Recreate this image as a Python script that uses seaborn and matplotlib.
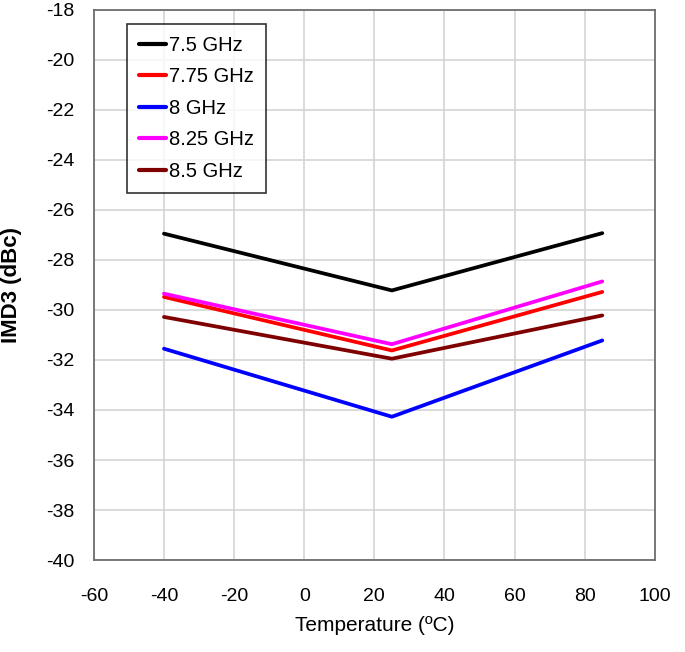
import matplotlib
matplotlib.use("Agg")
import matplotlib.pyplot as plt
import seaborn as sns
import pandas as pd

# temperature points and IMD3 per frequency
temps = [-40, 25, 85]
freqs = ['7.5 GHz', '7.75 GHz', '8 GHz', '8.25 GHz', '8.5 GHz']
imd_75 = [-26.95, -29.22, -26.93]
imd_775 = [-29.48, -31.62, -29.28]
imd_8 = [-31.55, -34.27, -31.22]
imd_825 = [-29.35, -31.37, -28.86]
imd_85 = [-30.28, -31.95, -30.22]
colors = ['#000000', '#ff0000', '#0000ff', '#ff00ff', '#7f0000']

rows = []
for f, vals in zip(freqs, [imd_75, imd_775, imd_8, imd_825, imd_85]):
    for t, v in zip(temps, vals):
        rows.append({'Temperature': t, 'IMD3': v, 'Freq': f})
df = pd.DataFrame(rows)

sns.set_style("white")
plt.rcParams['font.family'] = ['Liberation Sans', 'DejaVu Sans']
plt.rcParams['axes.unicode_minus'] = False
plt.rcParams['text.color'] = 'black'
plt.rcParams['xtick.color'] = 'black'
plt.rcParams['ytick.color'] = 'black'
plt.rcParams['axes.labelcolor'] = 'black'

fig = plt.figure(figsize=(6.85, 6.52), dpi=100)
ax = fig.add_axes([0.137, 0.141, 0.819, 0.844])

sns.lineplot(data=df, x='Temperature', y='IMD3', hue='Freq', hue_order=freqs,
             palette=colors, linewidth=2.7, ax=ax)

ax.set_xlim(-60, 100)
ax.set_ylim(-40, -18)
ax.set_xticks(range(-60, 101, 20))
ax.set_yticks(range(-40, -17, 2))
ax.grid(True, color='#d4d4d4', linewidth=1.2)
ax.set_axisbelow(True)
for s in ax.spines.values():
    s.set_color('#6e6e6e')
    s.set_linewidth(1.3)
ax.tick_params(axis='x', labelsize=14, length=0, pad=20)
ax.tick_params(axis='y', labelsize=14, length=0, pad=14)

ax.set_xlabel('Temperature (ºC)', fontsize=15, labelpad=8)
ax.set_ylabel('IMD3 (dBc)', fontsize=16, fontweight='bold')
ax.yaxis.set_label_coords(-0.128, 0.5)

leg = ax.legend(loc='upper left', bbox_to_anchor=(0.059, 0.975),
                borderaxespad=0, frameon=True, fancybox=False, edgecolor='black',
                handlelength=1.35, handletextpad=0.15, labelspacing=0.62,
                borderpad=0.6, title=None,
                prop={'size': 14.5})
leg.get_frame().set_linewidth(1.2)
for h in leg.get_lines():
    h.set_linewidth(3)

fig.savefig('out.png', dpi=100)
